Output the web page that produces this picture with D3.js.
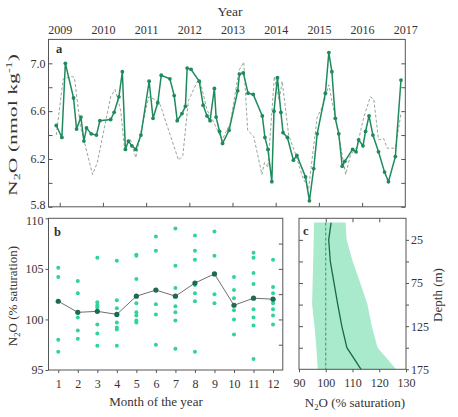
<!DOCTYPE html>
<html><head><meta charset="utf-8">
<script src="https://cdn.jsdelivr.net/npm/d3@7/dist/d3.min.js"></script>
<style>
body{margin:0;background:#fff}
svg text{font-family:"Liberation Serif","Times New Roman",serif;fill:#333}
</style>
</head><body>
<svg id="chart" width="458" height="417"></svg>
<script>
// ---------- DATA ----------
const yearTicks = [2009, 2010, 2011, 2012, 2013, 2014, 2015, 2016, 2017];
const solidYears = [2008.92,2009.05,2009.13,2009.32,2009.39,2009.49,2009.56,2009.62,2009.73,2009.85,2009.93,
  2010.18,2010.26,2010.37,2010.45,2010.52,2010.59,2010.67,2010.76,2010.88,
  2011.07,2011.16,2011.27,2011.35,2011.55,2011.65,2011.72,2011.83,2011.91,2011.95,
  2012.04,2012.23,2012.32,2012.41,2012.48,2012.58,2012.62,2012.70,2012.77,2012.92,
  2013.12,2013.16,2013.25,2013.36,2013.48,2013.69,2013.75,2013.82,2013.91,2013.96,
  2014.04,2014.12,2014.17,2014.27,2014.41,2014.49,2014.69,2014.78,2014.88,2014.96,
  2015.15,2015.23,2015.30,2015.38,2015.46,2015.54,2015.60,2015.78,2015.86,2015.92,
  2016.02,2016.08,2016.16,2016.25,2016.38,2016.52,2016.61,2016.77,2016.90];
const solidValues = [6.48,6.38,7.00,6.71,6.45,6.55,6.35,6.46,6.41,6.40,6.52,
  6.53,6.59,6.72,6.93,6.28,6.35,6.31,6.28,6.40,
  6.85,6.54,6.67,6.90,6.87,6.73,6.52,6.58,6.64,6.96,
  6.95,6.85,6.65,6.56,6.52,6.79,6.55,6.43,6.33,6.44,
  6.77,6.91,6.92,6.75,6.74,6.56,6.38,6.28,6.01,6.60,
  6.88,6.59,6.42,6.38,6.19,6.23,6.05,5.85,6.12,6.41,
  6.75,7.09,6.93,6.54,6.41,6.14,6.18,6.28,6.26,6.36,
  6.31,6.43,6.56,6.40,6.26,6.09,6.01,6.22,6.86];
const dashYears = [2008.92,2009.08,2009.29,2009.34,2009.48,2009.76,2009.87,2010.18,2010.28,2010.41,2010.50,2010.64,2010.76,2010.87,
  2011.06,2011.25,2011.33,2011.75,2011.85,2011.98,2012.19,2012.25,2012.41,2012.56,2012.76,2012.95,
  2013.15,2013.26,2013.35,2013.49,2013.68,2013.74,2013.82,2013.97,2014.08,2014.15,2014.30,2014.45,2014.62,2014.76,2014.96,
  2015.10,2015.23,2015.31,2015.46,2015.62,2015.73,2015.88,2016.04,2016.19,2016.27,2016.38,2016.50,2016.58,2016.77,2016.90];
const dashValues = [6.40,6.87,6.89,6.88,6.47,6.07,6.17,6.72,6.78,6.61,6.29,6.36,6.21,6.41,
  6.72,6.69,6.65,6.19,6.23,6.69,6.85,6.85,6.61,6.51,6.36,6.50,
  6.94,7.01,6.44,6.39,6.07,6.17,6.13,6.89,6.69,6.85,6.40,6.25,6.05,5.95,6.55,
  6.65,6.82,6.67,6.39,6.07,6.23,6.30,6.55,6.72,6.70,6.36,6.37,6.29,6.29,6.58];
const aTicksMajor = [5.8, 6.2, 6.6, 7.0];
const aTicksMinor = [5.8, 6.0, 6.2, 6.4, 6.6, 6.8, 7.0];

const months = [1,2,3,4,5,6,7,8,9,10,11,12];
const monthMeans = [101.8,100.7,100.8,100.5,102.3,102.9,102.3,103.6,104.5,101.4,102.1,102.0];
const monthSamples = [
  [105.1,104.2,98.0,96.8],
  [103.8,102.6,100.2,98.9,98.1],
  [106.1,101.7,101.4,101.2,99.5,98.6,97.4],
  [105.8,101.9,101.1,99.7,99.2,99.0,97.4],
  [106.4,106.3,104.0,101.6,100.7,100.4,99.9,99.7],
  [108.2,106.8,101.5,100.5,97.5],
  [109.0,105.3,103.1,101.3,100.7,99.9,97.1],
  [108.3,106.8,105.9,103.4,102.6,101.8,96.8],
  [108.7,106.3,102.5,101.6],
  [104.2,102.9,102.1,100.9,100.0,98.5],
  [106.6,106.1,104.6,103.5,101.0,100.2,99.4,96.1],
  [105.9,103.2,102.6,102.0,101.6,101.0,100.4,99.5]];
const bTicksMajor = [95, 100, 105, 110];
const bTicksMinor = [97.5, 100, 102.5, 105, 107.5];

const depths    = [5, 25, 50, 75, 100, 125, 150, 175];
const depthMean = [102.0, 101.1, 101.7, 103.1, 104.5, 106.0, 107.9, 113.2];
const depthLow  = [95.6, 95.5, 95.3, 95.1, 94.9, 95.8, 96.5, 97.0];
const depthHigh = [107.4, 107.8, 110.1, 112.9, 115.6, 117.2, 119.4, 126.3];
const saturationRef = 100;
const cTicksX = [90, 100, 110, 120, 130];
const cTicksDepth = [25, 50, 75, 100, 125, 150, 175];
const cLabelDepth = [25, 75, 125, 175];

// ---------- STYLE ----------
const C = {frame:"#555", solid:"#1f8a5c", dash:"#93a89c", light:"#30d49b", mean:"#1c6b4c",
  meanLine:"#707070", band:"#a9e9cc", cLine:"#17694a", ref:"#2a9d6c"};
const FS_TICK = 12, FS_TITLE = 13;

const svg = d3.select("#chart");

function frame(x0,x1,y0,y1){
  svg.append("rect").attr("x",x0).attr("y",y0).attr("width",x1-x0).attr("height",y1-y0)
    .attr("fill","none").attr("stroke",C.frame).attr("stroke-width",1);
}
function styleAxis(g){
  g.attr("font-family",null).attr("font-size",null);
  g.select(".domain").remove();
  g.selectAll("line").attr("stroke",C.frame);
  g.selectAll("text").style("font-size",FS_TICK+"px").attr("fill","#333");
  return g;
}
function n2oLabel(sel, rest, sup){
  sel.append("tspan").text("N");
  sel.append("tspan").text("2").attr("font-size","8.5px").attr("dy",3);
  sel.append("tspan").attr("dy",-3).text(rest);
  if(sup){
    sel.append("tspan").text(sup).attr("font-size","8.5px").attr("dy",-5);
    sel.append("tspan").text(")").attr("dy",5);
  }
}

// ---------- PANEL A ----------
const xa = d3.scaleLinear().domain([2008.74, 2017]).range([48.5, 405.3]);
const ya = d3.scaleLinear().domain([5.8, 7.2]).range([206.8, 39.4]);

const solidData = solidYears.map((d,i)=>({x:d,y:solidValues[i]}));
const dashData = dashYears.map((d,i)=>({x:d,y:dashValues[i]}));
const lineA = d3.line().x(d=>xa(d.x)).y(d=>ya(d.y));

svg.append("path").datum(dashData).attr("d",lineA).attr("fill","none")
  .attr("stroke",C.dash).attr("stroke-width",1).attr("stroke-dasharray","3,2");
svg.append("path").datum(solidData).attr("d",lineA).attr("fill","none")
  .attr("stroke",C.solid).attr("stroke-width",1.5);
svg.append("g").selectAll("circle").data(solidData).join("circle")
  .attr("cx",d=>xa(d.x)).attr("cy",d=>ya(d.y)).attr("r",1.9).attr("fill",C.solid);

frame(48.5,405.3,39.4,206.8);
const aLeft = styleAxis(svg.append("g").attr("transform","translate(48.5,0)")
  .call(d3.axisLeft(ya).tickValues(aTicksMinor).tickSize(-4).tickPadding(3)
    .tickFormat(d=>aTicksMajor.some(v=>Math.abs(v-d)<1e-9)?d3.format(".1f")(d):"")));
aLeft.selectAll("text").filter(d=>d===aTicksMajor[0]).attr("dy","0.1em");
styleAxis(svg.append("g").attr("transform","translate(405.3,0)")
  .call(d3.axisRight(ya).tickValues(aTicksMinor).tickSize(-4).tickFormat("")));
styleAxis(svg.append("g").attr("transform","translate(0,206.8)")
  .call(d3.axisBottom(xa).tickValues(yearTicks.slice(0,-1)).tickSize(-4).tickFormat("")));
styleAxis(svg.append("g").attr("transform","translate(0,39.4)")
  .call(d3.axisTop(xa).tickValues(yearTicks).tickSize(0).tickPadding(5).tickFormat(d3.format("d"))));

svg.append("text").attr("x",230).attr("y",16).attr("text-anchor","middle")
  .attr("font-size",FS_TITLE+0.5).text("Year");
svg.append("text").attr("x",56).attr("y",53).attr("font-size",12.5).attr("font-weight","bold").text("a");
const ta = svg.append("text").attr("transform","translate(17,125) rotate(-90)")
  .attr("text-anchor","middle").attr("font-size",13)
  .attr("textLength",142).attr("lengthAdjust","spacingAndGlyphs");
n2oLabel(ta, "O (nmol kg", "-1");

// ---------- PANEL B ----------
const xb = d3.scaleLinear().domain([0.5, 12.5]).range([48.5, 282.8]);
const yb = d3.scaleLinear().domain([95, 110]).range([370, 218.3]);

const samples = [];
monthSamples.forEach((arr,i)=>arr.forEach(v=>samples.push({m:months[i],v})));
svg.append("g").selectAll("circle").data(samples).join("circle")
  .attr("cx",d=>xb(d.m)).attr("cy",d=>yb(d.v)).attr("r",2).attr("fill",C.light);
const meanData = months.map((m,i)=>({m,v:monthMeans[i]}));
svg.append("path").datum(meanData).attr("d",d3.line().x(d=>xb(d.m)).y(d=>yb(d.v)))
  .attr("fill","none").attr("stroke",C.meanLine).attr("stroke-width",1);
svg.append("g").selectAll("circle").data(meanData).join("circle")
  .attr("cx",d=>xb(d.m)).attr("cy",d=>yb(d.v)).attr("r",2.6).attr("fill",C.mean);

frame(48.5,282.8,218.3,370);
const bLeft = styleAxis(svg.append("g").attr("transform","translate(48.5,0)")
  .call(d3.axisLeft(yb).tickValues(bTicksMajor).tickSize(3).tickPadding(2).tickFormat(d3.format("d"))));
bLeft.selectAll("text").filter(d=>d===bTicksMajor[bTicksMajor.length-1]).attr("dy","0.5em");
styleAxis(svg.append("g").attr("transform","translate(282.8,0)")
  .call(d3.axisRight(yb).tickValues(bTicksMinor).tickSize(-4).tickFormat("")));
styleAxis(svg.append("g").attr("transform","translate(0,370)")
  .call(d3.axisBottom(xb).tickValues(months).tickSize(3).tickPadding(6).tickFormat(d3.format("d"))));
svg.append("text").attr("x",54).attr("y",236).attr("font-size",12.5).attr("font-weight","bold").text("b");
svg.append("text").attr("x",156).attr("y",406).attr("text-anchor","middle").attr("font-size",FS_TITLE).text("Month of the year");
const tb = svg.append("text").attr("transform","translate(17,296) rotate(-90)")
  .attr("text-anchor","middle").attr("font-size",FS_TITLE);
n2oLabel(tb, "O (% saturation)");

// ---------- PANEL C ----------
const xc = d3.scaleLinear().domain([90, 130]).range([299, 406]);
const yc = d3.scaleLinear().domain([0, 175]).range([218.3, 369.3]);
const cData = depths.map((d,i)=>({d,m:depthMean[i],lo:depthLow[i],hi:depthHigh[i]}));

svg.append("path").datum(cData)
  .attr("d",d3.area().y(d=>yc(d.d)).x0(d=>xc(d.lo)).x1(d=>xc(d.hi)))
  .attr("fill",C.band).attr("stroke","none");
svg.append("path").datum([depths[0], depths[depths.length-1]])
  .attr("d",d3.line().x(()=>xc(saturationRef)).y(d=>yc(d)))
  .attr("stroke",C.ref).attr("stroke-width",1).attr("stroke-dasharray","3,2").attr("fill","none");
svg.append("path").datum(cData).attr("d",d3.line().x(d=>xc(d.m)).y(d=>yc(d.d)))
  .attr("fill","none").attr("stroke",C.cLine).attr("stroke-width",1.3);

frame(299,406,218.3,369.3);
styleAxis(svg.append("g").attr("transform","translate(0,369.3)")
  .call(d3.axisBottom(xc).tickValues(cTicksX).tickSize(3).tickPadding(6).tickFormat(d3.format("d"))));
styleAxis(svg.append("g").attr("transform","translate(0,218.3)")
  .call(d3.axisTop(xc).tickValues(cTicksX.slice(1,-1)).tickSize(-4).tickFormat("")));
styleAxis(svg.append("g").attr("transform","translate(299,0)")
  .call(d3.axisLeft(yc).tickValues(cTicksDepth.slice(0,-1)).tickSize(-4).tickFormat("")));
styleAxis(svg.append("g").attr("transform","translate(406,0)")
  .call(d3.axisRight(yc).tickValues(cTicksDepth).tickSize(3).tickPadding(2)
    .tickFormat(d=>cLabelDepth.includes(d)?d:"")));
svg.append("text").attr("x",303).attr("y",234.5).attr("font-size",12.5).attr("font-weight","bold").text("c");
const tc = svg.append("text").attr("x",355).attr("y",407).attr("text-anchor","middle").attr("font-size",FS_TITLE);
n2oLabel(tc, "O (% saturation)");
svg.append("text").attr("transform","translate(442,295) rotate(-90)")
  .attr("text-anchor","middle").attr("font-size",FS_TITLE).text("Depth (m)");
</script>
</body></html>
